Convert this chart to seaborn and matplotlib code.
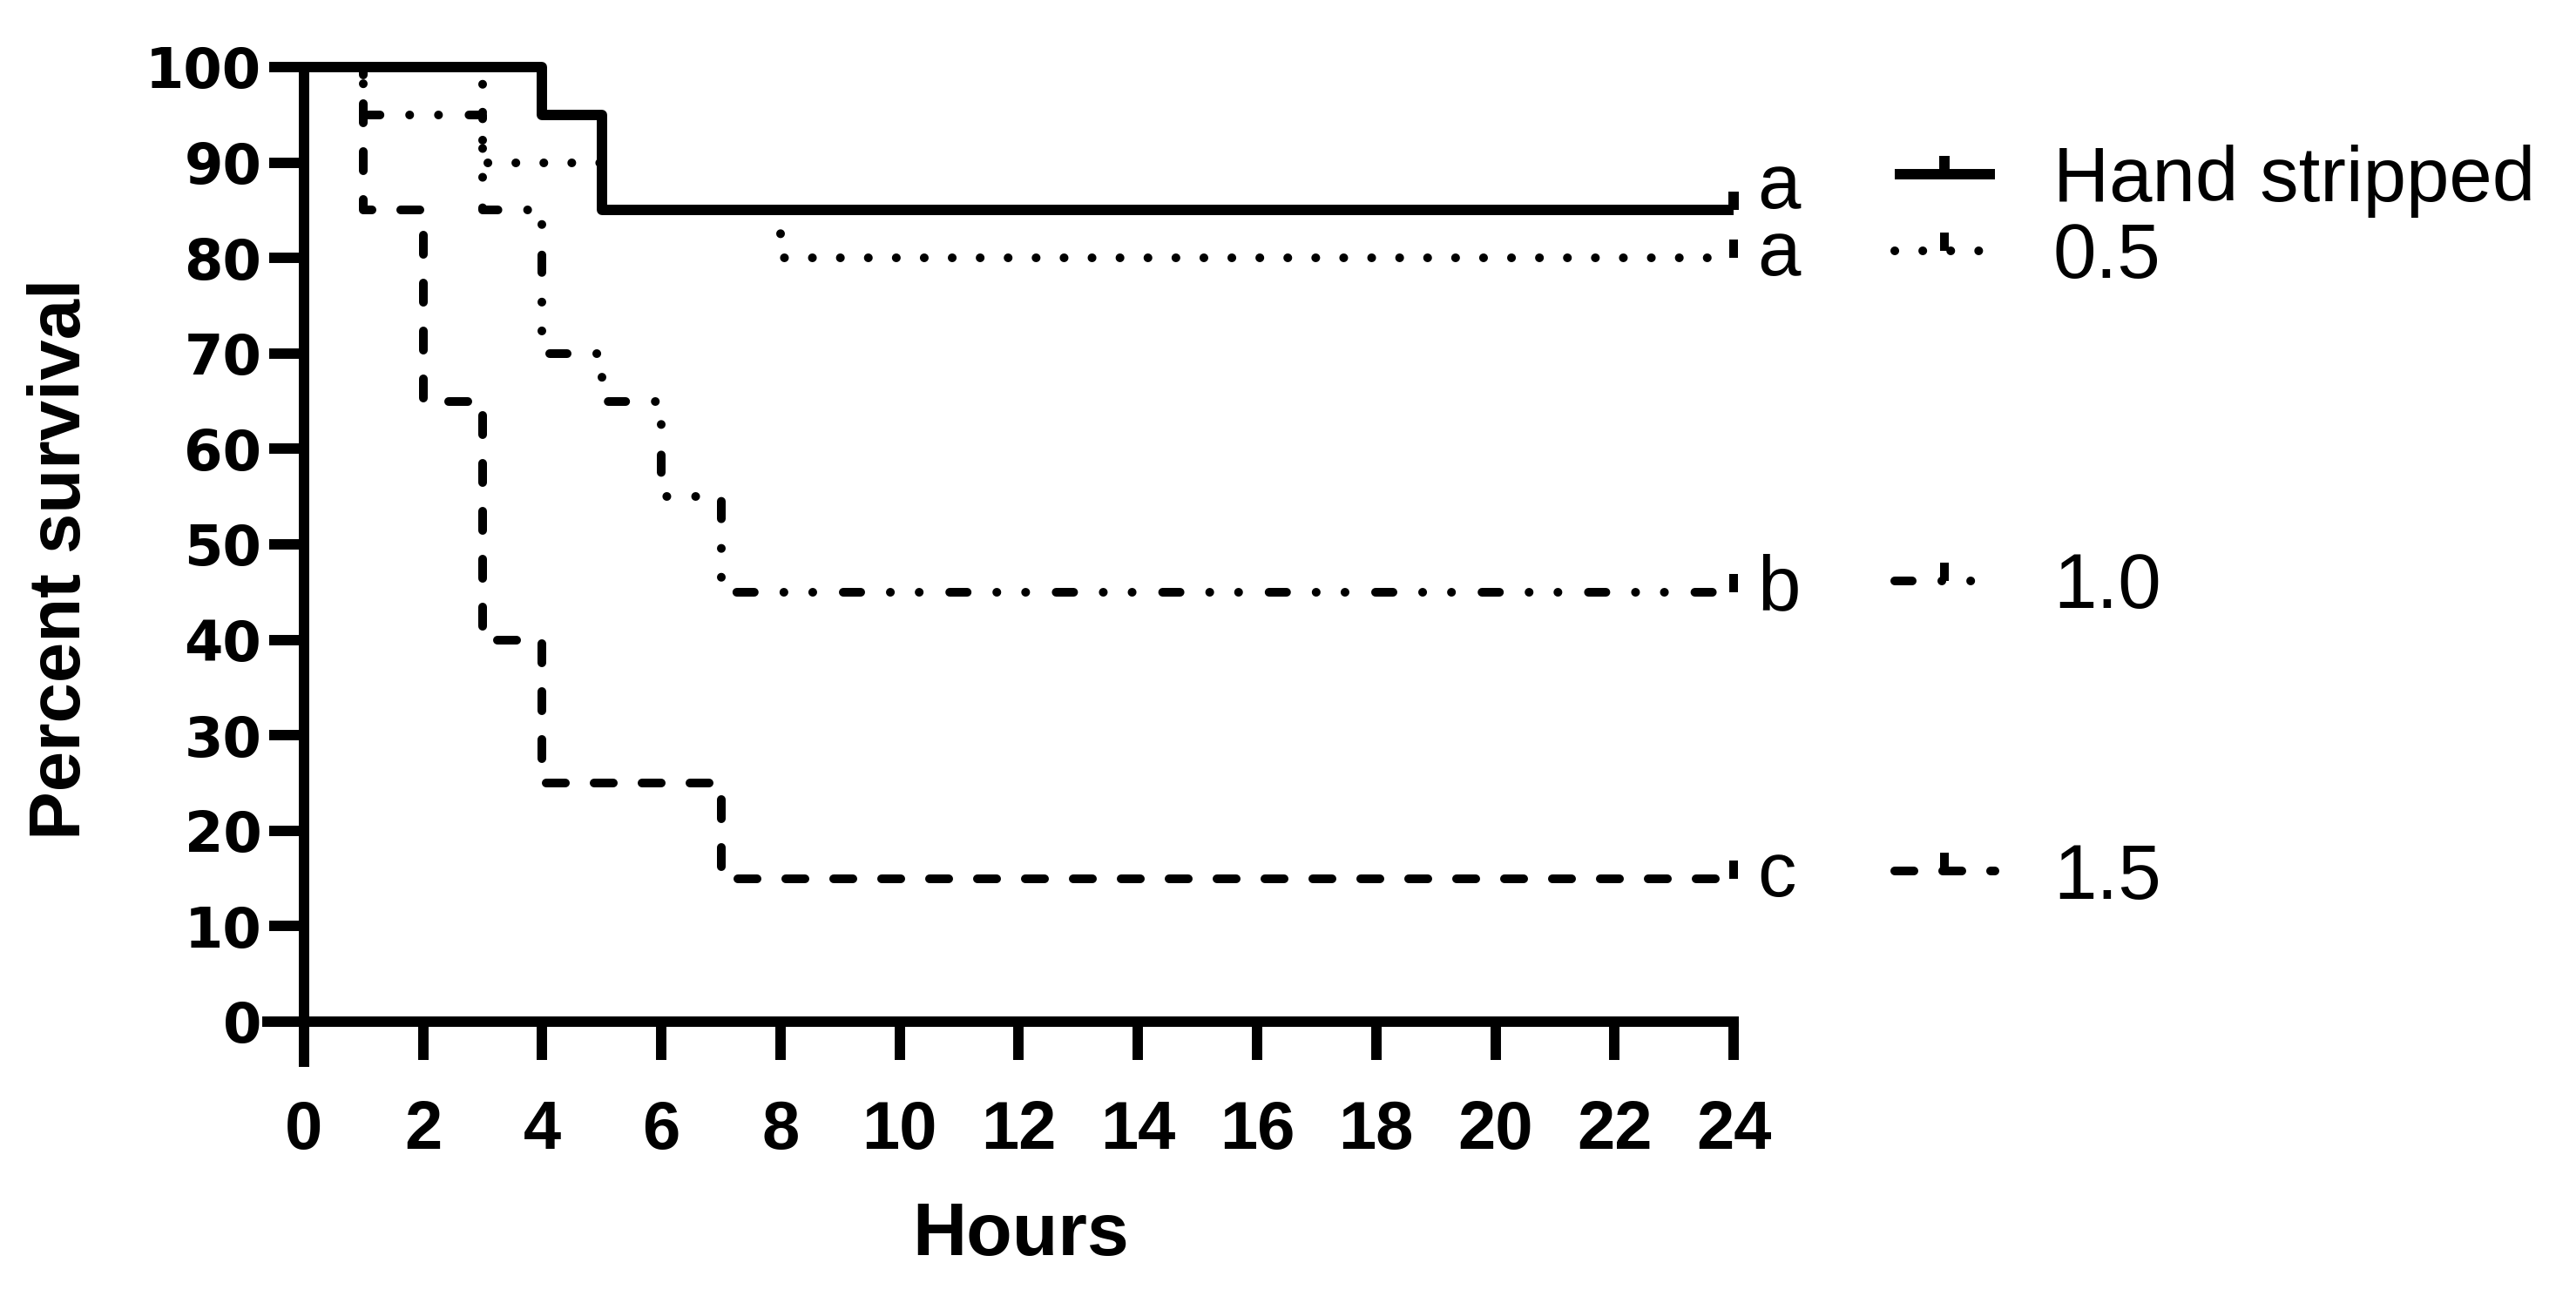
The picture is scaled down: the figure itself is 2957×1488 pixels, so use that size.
"""
Kaplan-Meier style survival curves: percent survival over 24 hours.
"""
import numpy as np
import pandas as pd
import matplotlib
matplotlib.use("Agg")
import matplotlib.pyplot as plt
from matplotlib.legend import Legend
import seaborn as sns

# ---- data ----
groups = ["Hand stripped", "0.5", "1.0", "1.5"]
letters = ["a", "a", "b", "c"]

hours_hand = [0, 4, 5, 24]
surv_hand = [100, 95, 85, 85]

hours_05 = [0, 3, 5, 8, 24]
surv_05 = [100, 90, 85, 80, 80]

hours_10 = [0, 1, 3, 4, 5, 6, 7, 24]
surv_10 = [100, 95, 85, 70, 65, 55, 45, 45]

hours_15 = [0, 1, 2, 3, 4, 7, 24]
surv_15 = [100, 85, 65, 40, 25, 15, 15]

x_ticks = list(range(0, 25, 2))
y_ticks = list(range(0, 101, 10))

# long table for seaborn
frames = []
for name, hrs, srv in zip(groups,
                          [hours_hand, hours_05, hours_10, hours_15],
                          [surv_hand, surv_05, surv_10, surv_15]):
    frames.append(pd.DataFrame({"group": name, "hours": hrs, "survival": srv}))
df = pd.concat(frames, ignore_index=True)

# ---- styles ----
line_styles = {
    "Hand stripped": "-",
    "0.5": (0, (0.01, 3.2)),
    "1.0": (0, (2.0, 3.4, 0.01, 3.3, 0.01, 3.5)),
    "1.5": (0, (2.2, 3.3)),
}
line_widths = {"Hand stripped": 4.3, "0.5": 3.6, "1.0": 3.6, "1.5": 3.6}
# legend rows sit next to the curve ends (first one nudged up)
legend_y = {"Hand stripped": 88.0, "0.5": 80.0, "1.0": 45.4, "1.5": 15.0}
letter_y = {"Hand stripped": 87.3, "0.5": 80.3, "1.0": 45.2, "1.5": 15.2}

sns.set_theme(style="ticks")
plt.rcParams["font.family"] = ["Liberation Sans", "DejaVu Sans"]
plt.rcParams["lines.dash_capstyle"] = "round"
plt.rcParams["lines.solid_capstyle"] = "butt"
for key in ["text.color", "axes.labelcolor", "xtick.color", "ytick.color",
            "axes.edgecolor", "legend.labelcolor"]:
    plt.rcParams[key] = "black"

fig = plt.figure(figsize=(2957 / 200, 1488 / 200), dpi=200)
ax = fig.add_axes([0.118, 0.2117, 0.555, 0.7366])

lines = {}
for name in ["1.5", "1.0", "0.5", "Hand stripped"]:
    sub = df[df["group"] == name]
    sns.lineplot(data=sub, x="hours", y="survival", ax=ax, color="black",
                 drawstyle="steps-post", linestyle=line_styles[name],
                 linewidth=line_widths[name], errorbar=None, sort=False,
                 marker=2, markevery=[-1], markersize=7.5,
                 markeredgewidth=line_widths[name], markeredgecolor="black",
                 clip_on=False, legend=False)
    lines[name] = ax.lines[-1]

ax.set_xlim(0, 24)
ax.set_ylim(0, 100)
ax.set_xticks(x_ticks)
ax.set_yticks(y_ticks)

for side in ["top", "right"]:
    ax.spines[side].set_visible(False)
for side in ["left", "bottom"]:
    ax.spines[side].set_linewidth(4.3)
    ax.spines[side].set_color("black")
ax.spines["left"].set_bounds(-4.2, 100)
ax.spines["bottom"].set_bounds(-0.62, 24)

ax.tick_params(axis="x", length=16, width=4.3, pad=16, color="black",
               labelcolor="black")
ax.tick_params(axis="y", length=14.5, width=4.3, pad=3, color="black",
               labelcolor="black")

for lbl in ax.get_xticklabels():
    lbl.set_fontfamily(["Liberation Sans", "DejaVu Sans"])
    lbl.set_fontweight("bold")
    lbl.set_fontsize(28)
for lbl in ax.get_yticklabels():
    lbl.set_fontfamily(["DejaVu Sans"])
    lbl.set_fontweight("bold")
    lbl.set_fontsize(23)

ax.set_xlabel("Hours", fontsize=31, fontweight="bold", va="center",
              color="black")
ax.xaxis.set_label_coords(0.5015, -0.2245)
ax.set_ylabel("Percent survival", fontsize=30, fontweight="bold", va="center",
              color="black")
ax.yaxis.set_label_coords(-0.170, 0.485)

# significance letters at the curve ends
for name, let in zip(groups, letters):
    ax.text(24.4, letter_y[name], let, fontsize=32, ha="left", va="center",
            color="black")

# one small legend per group, aligned with its curve
for name in groups:
    leg = Legend(ax, [lines[name]], [name], loc="center left",
                 bbox_to_anchor=(26.7, legend_y[name]),
                 bbox_transform=ax.transData, frameon=False, fontsize=32,
                 handlelength=1.3, handletextpad=0.75, borderpad=0,
                 borderaxespad=0, numpoints=1, labelcolor="black")
    ax.add_artist(leg)

fig.savefig("out.png", dpi=200)
